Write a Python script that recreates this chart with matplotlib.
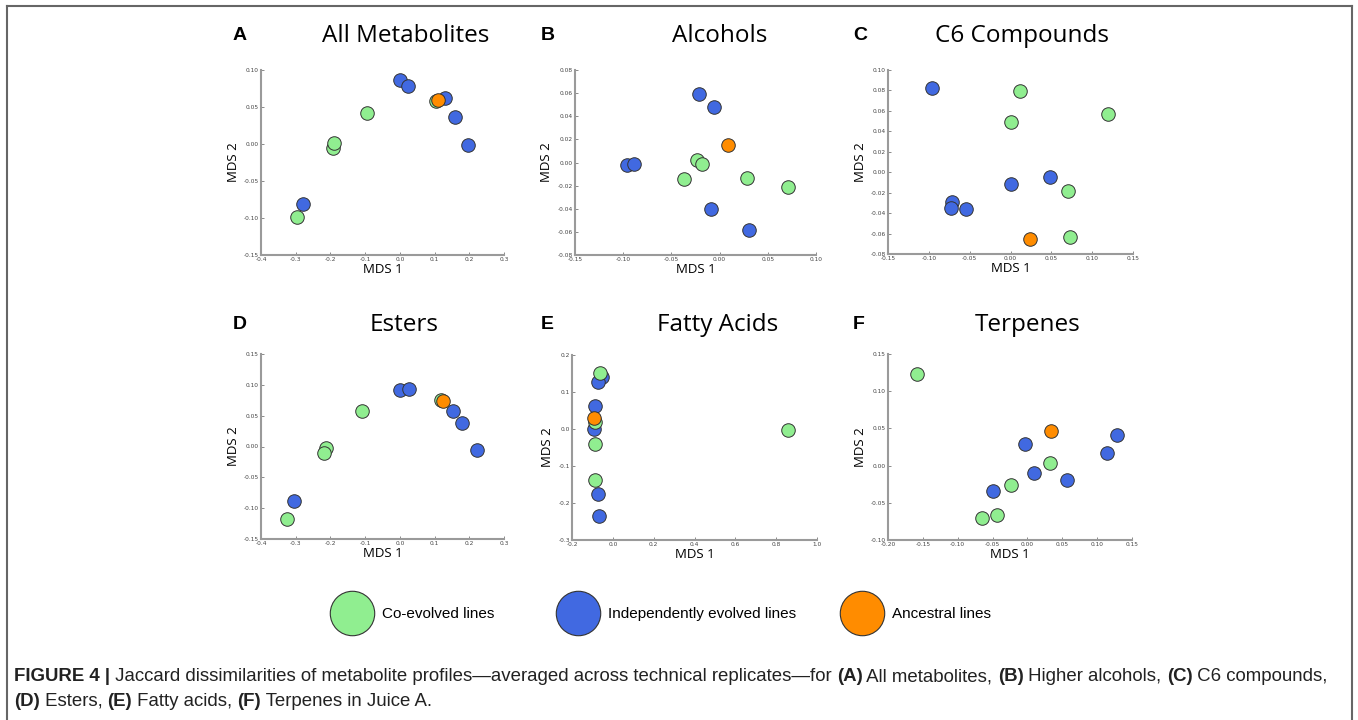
import numpy as np
import matplotlib
matplotlib.use("Agg")
import matplotlib.pyplot as plt
from matplotlib.ticker import MultipleLocator, FormatStrFormatter
from matplotlib.lines import Line2D
from matplotlib.font_manager import FontProperties

W, H, DPI = 1358, 720, 100

group_labels = ["Co-evolved lines", "Independently evolved lines", "Ancestral lines"]
group_colors = ["#90ee90", "#4169e1", "#ff8c00"]

# A - All Metabolites
all_co_x = [-0.297, -0.193, -0.189, -0.094, 0.104]
all_co_y = [-0.099, -0.006, 0.002, 0.042, 0.058]
all_ind_x = [0.000, 0.023, 0.131, 0.160, 0.195, -0.278]
all_ind_y = [0.087, 0.078, 0.062, 0.036, -0.001, -0.081]
all_anc_x = [0.110]
all_anc_y = [0.059]

# B - Alcohols
alc_co_x = [-0.023, -0.018, -0.037, 0.028, 0.071]
alc_co_y = [0.002, -0.001, -0.014, -0.013, -0.021]
alc_ind_x = [-0.021, -0.006, -0.096, -0.089, -0.009, 0.030]
alc_ind_y = [0.059, 0.048, -0.002, -0.001, -0.040, -0.058]
alc_anc_x = [0.009]
alc_anc_y = [0.015]

# C - C6 Compounds
c6_co_x = [0.012, 0.000, 0.119, 0.071, 0.073]
c6_co_y = [0.079, 0.049, 0.057, -0.018, -0.063]
c6_ind_x = [-0.096, 0.048, 0.001, -0.072, -0.073, -0.054]
c6_ind_y = [0.082, -0.005, -0.012, -0.029, -0.035, -0.036]
c6_anc_x = [0.024]
c6_anc_y = [-0.065]

# D - Esters
est_co_x = [0.119, -0.110, -0.214, -0.219, -0.326]
est_co_y = [0.075, 0.058, -0.003, -0.011, -0.118]
est_ind_x = [0.001, 0.026, 0.152, 0.180, 0.223, -0.306]
est_ind_y = [0.091, 0.094, 0.058, 0.038, -0.005, -0.089]
est_anc_x = [0.124]
est_anc_y = [0.074]

# E - Fatty Acids
fa_co_x = [-0.064, -0.089, -0.089, -0.085, 0.857]
fa_co_y = [0.152, 0.020, -0.041, -0.138, -0.004]
fa_ind_x = [-0.054, -0.071, -0.085, -0.092, -0.074, -0.069]
fa_ind_y = [0.141, 0.126, 0.062, 0.000, -0.176, -0.236]
fa_anc_x = [-0.090]
fa_anc_y = [0.031]

# F - Terpenes
ter_co_x = [-0.158, 0.033, -0.024, -0.065, -0.044]
ter_co_y = [0.123, 0.004, -0.026, -0.071, -0.066]
ter_ind_x = [-0.003, 0.009, 0.057, 0.114, 0.129, -0.050]
ter_ind_y = [0.029, -0.010, -0.019, 0.017, 0.041, -0.034]
ter_anc_x = [0.034]
ter_anc_y = [0.047]

panels = [
    ("A", "All Metabolites", (all_co_x, all_co_y), (all_ind_x, all_ind_y), (all_anc_x, all_anc_y),
     (-0.4, 0.3, 0.1, "%.1f"), (-0.15, 0.10, 0.05, "%.2f"), (261, 70, 504, 255), 406),
    ("B", "Alcohols", (alc_co_x, alc_co_y), (alc_ind_x, alc_ind_y), (alc_anc_x, alc_anc_y),
     (-0.15, 0.10, 0.05, "%.2f"), (-0.08, 0.08, 0.02, "%.2f"), (575, 70, 816, 255), 720),
    ("C", "C6 Compounds", (c6_co_x, c6_co_y), (c6_ind_x, c6_ind_y), (c6_anc_x, c6_anc_y),
     (-0.15, 0.15, 0.05, "%.2f"), (-0.08, 0.10, 0.02, "%.2f"), (888, 70, 1133, 254), 1022),
    ("D", "Esters", (est_co_x, est_co_y), (est_ind_x, est_ind_y), (est_anc_x, est_anc_y),
     (-0.4, 0.3, 0.1, "%.1f"), (-0.15, 0.15, 0.05, "%.2f"), (261, 354, 504, 539), 404),
    ("E", "Fatty Acids", (fa_co_x, fa_co_y), (fa_ind_x, fa_ind_y), (fa_anc_x, fa_anc_y),
     (-0.2, 1.0, 0.2, "%.1f"), (-0.3, 0.2, 0.1, "%.1f"), (572, 355, 817, 540), 718),
    ("F", "Terpenes", (ter_co_x, ter_co_y), (ter_ind_x, ter_ind_y), (ter_anc_x, ter_anc_y),
     (-0.20, 0.15, 0.05, "%.2f"), (-0.10, 0.15, 0.05, "%.2f"), (888, 354, 1132, 540), 1028),
]

fig = plt.figure(figsize=(W / DPI, H / DPI), dpi=DPI)
fig.patch.set_facecolor("white")

def fx(px):
    return px / W

def fy(py):
    return 1 - py / H

for letter, title, co, ind, anc, xs, ys, box, title_cx in panels:
    x0, y0, x1, y1 = box
    ax = fig.add_axes([fx(x0), fy(y1), (x1 - x0) / W, (y1 - y0) / H])
    # blue first, then green, orange on top
    for (gx, gy), col in [(ind, group_colors[1]), (co, group_colors[0]), (anc, group_colors[2])]:
        ax.scatter(gx, gy, s=95, c=col, edgecolors="#333333", linewidths=0.7, zorder=3, clip_on=False)
    ax.set_xlim(xs[0], xs[1])
    ax.set_ylim(ys[0], ys[1])
    ax.xaxis.set_major_locator(MultipleLocator(xs[2]))
    ax.yaxis.set_major_locator(MultipleLocator(ys[2]))
    ax.xaxis.set_major_formatter(FormatStrFormatter(xs[3]))
    ax.yaxis.set_major_formatter(FormatStrFormatter(ys[3]))
    for s in ["top", "right"]:
        ax.spines[s].set_visible(False)
    for s in ["left", "bottom"]:
        ax.spines[s].set_color("#9a9a9a")
        ax.spines[s].set_linewidth(1.5)
    ax.tick_params(direction="in", length=2, width=0.6, color="#777777",
                   labelsize=4.2, labelcolor="#444444", pad=1.5)
    ax.set_xlabel("MDS 1", fontsize=9.5, family="Open Sans", labelpad=1)
    ax.set_ylabel("MDS 2", fontsize=9.5, family="Open Sans", labelpad=3)
    ty = 36 if y0 < 200 else 325
    fig.text(fx(title_cx), fy(ty), title, fontsize=17.5, family="Open Sans",
             ha="center", va="center")
    lx = 233 if x0 < 400 else (541 if x0 < 800 else 853)
    fig.text(fx(lx), fy(ty), letter, fontsize=14, fontweight="bold",
             family="Liberation Sans", ha="left", va="center")

# legend, one entry at a time so the spacing follows the original
legend_x = [352, 578, 862]
leg_size = 11
for lab, col, cx in zip(group_labels, group_colors, legend_x):
    h = Line2D([], [], marker="o", linestyle="none", markersize=32,
               markerfacecolor=col, markeredgecolor="#333333", markeredgewidth=0.8)
    fig.legend([h], [lab], loc="center left", bbox_to_anchor=(fx(cx - 23), fy(614)),
               frameon=False, handlelength=2.96, handletextpad=0.48, borderpad=0,
               borderaxespad=0, prop={"family": "Liberation Sans", "size": leg_size})

# caption with bold runs
cap_size = 13.4
renderer = fig.canvas.get_renderer()

def run_width(txt, bold):
    fp = FontProperties(family="Liberation Sans", size=cap_size,
                        weight="bold" if bold else "normal")
    w_full = renderer.get_text_width_height_descent("|" + txt + "|", fp, ismath=False)[0]
    w_bars = renderer.get_text_width_height_descent("||", fp, ismath=False)[0]
    return w_full - w_bars

def rich_line(runs, x0, y):
    x = x0
    for txt, bold in runs:
        fig.text(fx(x), fy(y), txt, fontsize=cap_size, family="Liberation Sans",
                 fontweight="bold" if bold else "normal", color="#222222",
                 ha="left", va="baseline")
        x += run_width(txt, bold)

line1 = [("FIGURE 4 |", True),
         (" Jaccard dissimilarities of metabolite profiles\u2014averaged across technical replicates\u2014for ", False),
         ("(A)", True), (" All metabolites, ", False), ("(B)", True), (" Higher alcohols, ", False),
         ("(C)", True), (" C6 compounds,", False)]
line2 = [("(D)", True), (" Esters, ", False), ("(E)", True), (" Fatty acids, ", False),
         ("(F)", True), (" Terpenes in Juice A.", False)]
rich_line(line1, 14, 681)
rich_line(line2, 14, 706)

# frame around the figure (top, left, right)
frame_kw = dict(color="#666666", linewidth=1.5, transform=fig.transFigure)
fig.add_artist(Line2D([fx(7), fx(1352)], [fy(6), fy(6)], **frame_kw))
fig.add_artist(Line2D([fx(7), fx(7)], [fy(6), 0], **frame_kw))
fig.add_artist(Line2D([fx(1352), fx(1352)], [fy(6), 0], **frame_kw))

fig.savefig("out.png", dpi=DPI)
